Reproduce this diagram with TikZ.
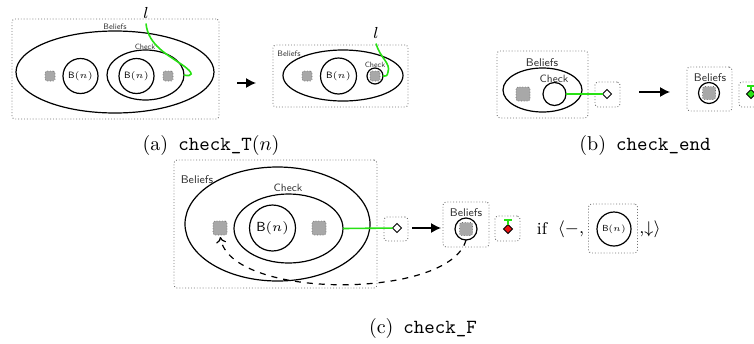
\RequirePackage{fix-cm}
\documentclass[tikz,border=0pt]{standalone}
\usepackage{fontspec}
\usetikzlibrary{shapes.geometric,arrows.meta}
\definecolor{lgreen}{RGB}{40,225,20}
\definecolor{sqgray}{RGB}{168,168,168}
\definecolor{boxgray}{RGB}{115,115,115}
\definecolor{lred}{RGB}{235,20,20}
\newcommand{\fsz}[1]{\fontsize{#1}{#1}\selectfont}
\newcommand{\Bn}{\textsf{B}$(n)$}
\begin{document}
\begin{tikzpicture}[x=0.5pt,y=-0.5pt,
  every node/.style={inner sep=0pt, outer sep=0pt},
  dotbox/.style={rectangle, draw=boxgray, densely dotted, line width=0.45pt, rounded corners=1.5pt},
  ell/.style={ellipse, draw, line width=0.6pt},
  circ/.style={circle, draw, line width=0.6pt},
  gsq/.style={rectangle, fill=sqgray, draw=sqgray!65!black, densely dotted, line width=0.35pt, rounded corners=0.8pt, minimum size=#1},
  gsq/.default=5pt,
  dia/.style={diamond, draw, fill=white, line width=0.5pt, minimum size=4.5pt},
  lab/.style={font=\sffamily\fsz{#1}, text=black!80},
  gline/.style={draw=lgreen, line width=0.8pt},
  bigarr/.style={line width=0.6pt, -{Latex[length=5pt,width=5pt]}},
  captext/.style={font=\fsz{10}}
]
\useasboundingbox (0,0) rectangle (754,343);
\clip (0,0) rectangle (754,343);

% ---------- (a) left ----------
\node[dotbox, minimum width=103.5pt, minimum height=50pt] (aBox) at (115.5,69) {};
\node[ell, minimum width=99pt, minimum height=41pt] (aBel) at (115,72) {};
\node[lab=4] (aBelL) at (115,27) {Beliefs};
\node[ell, minimum width=38.5pt, minimum height=25pt] (aChk) at (145.5,75) {};
\node[lab=3.8] (aChkL) at (145,47) {Check};
\node[circ, minimum size=17.5pt, font=\fsz{4.6}] (aB1) at (80.5,76) {\Bn};
\node[circ, minimum size=17.5pt, font=\fsz{4.6}] (aB2) at (136.5,76) {\Bn};
\node[gsq] (aS1) at (50,76) {};
\node[gsq] (aS2) at (168,76) {};
\node[font=\fsz{8}, outer sep=2.5pt] (aL) at (146,13) {$l$};
\draw[gline] (aL.south) .. controls (148,45) and (168,55) .. (181,64) .. controls (196,74) and (192,77) .. (aChk.east);
\coordinate (aA1) at (237,83);
\coordinate (aA2) at (256,83);
\draw[bigarr] (aA1) -- (aA2);

% ---------- (a) right ----------
\node[dotbox, minimum width=67.5pt, minimum height=31pt] (a2Box) at (340.5,76) {};
\node[ell, minimum width=60pt, minimum height=25.5pt] (a2Bel) at (343,75.5) {};
\node[lab=4] (a2BelL) at (289,54) {Beliefs};
\node[circ, minimum size=18pt, font=\fsz{4.6}] (a2B) at (338.5,76) {\Bn};
\node[circ, minimum size=8pt] (a2Chk) at (375,76) {};
\node[gsq] (a2S2) at (375,76) {};
\node[lab=3.8] (a2ChkL) at (375,65) {Check};
\node[gsq] (a2S1) at (307,76) {};
\node[font=\fsz{8}, outer sep=2.5pt] (a2L) at (376,33) {$l$};
\draw[gline] (a2L.south) .. controls (380,58) and (391,63) .. (388,72) .. controls (387,76) .. (a2Chk.east);

\node[captext] (capA) at (211,145) {(a)\enspace\texttt{check\_T}$(n)$};

% ---------- (b) ----------
\node[dotbox, minimum width=45.5pt, minimum height=33.5pt] (bBox) at (542.5,84.5) {};
\node[ell, minimum width=39.5pt, minimum height=22pt] (bBel) at (542.5,90) {};
\node[lab=5.6] (bBelL) at (542,63) {Beliefs};
\node[lab=5.3] (bChkL) at (554,79) {Check};
\node[circ, minimum size=11.5pt] (bChk) at (554.5,94) {};
\node[gsq=7pt] (bS) at (523,94) {};
\node[dotbox, minimum size=12.5pt] (bDB) at (607.5,94.5) {};
\node[dia] (bD) at (607,94) {};
\draw[gline] (bChk) -- (bD);
\coordinate (bA1) at (639,92);
\coordinate (bA2) at (670,92);
\draw[bigarr] (bA1) -- (bA2);
\node[dotbox, minimum width=22.5pt, minimum height=22pt] (b2Box) at (709.5,89) {};
\node[lab=5.6] (b2BelL) at (710,78) {Beliefs};
\node[circ, minimum size=10.5pt] (b2C) at (709,93) {};
\node[gsq=6.5pt] (b2S) at (709,93) {};
\node[dotbox, minimum size=12.5pt] (b2DB) at (751.5,94.5) {};
\node[dia, fill=lgreen] (b2D) at (751,94) {};
\coordinate (b2T) at (751,85);
\draw[gline, -{Bar[width=4pt]}] (b2D) -- (b2T);

\node[captext] (capB) at (645,145) {(b)\enspace\texttt{check\_end}};

% ---------- (c) ----------
\node[dotbox, minimum width=101.5pt, minimum height=64pt] (cBox) at (275.5,224) {};
\node[ell, minimum width=92.5pt, minimum height=57pt] (cBel) at (277.5,224) {};
\node[lab=5.6] (cBelL) at (197,180) {Beliefs};
\node[ell, minimum width=54.5pt, minimum height=34.5pt] (cChk) at (288.5,228.5) {};
\node[lab=5.3] (cChkL) at (288,188) {Check};
\node[circ, minimum size=23pt, font=\fsz{6.6}] (cB) at (272.5,228) {\Bn};
\node[gsq=7pt] (cS1) at (220,228) {};
\node[gsq=7pt] (cS2) at (319,228) {};
\node[dotbox, minimum size=12pt] (cDB) at (396,229) {};
\node[dia] (cD) at (397,228) {};
\draw[gline] (cChk.east) -- (cD);
\coordinate (cA1) at (412,228);
\coordinate (cA2) at (441,228);
\draw[bigarr] (cA1) -- (cA2);
\node[dotbox, minimum width=23pt, minimum height=22.5pt] (c2Box) at (466,224.5) {};
\node[lab=5.6] (c2BelL) at (466,213) {Beliefs};
\node[circ, minimum size=11pt] (c2C) at (466,229) {};
\node[gsq=6.5pt] (c2S) at (466,229) {};
\node[dotbox, minimum size=12.5pt] (cRB) at (507.5,228.5) {};
\node[dia, fill=lred] (cRD) at (508,229) {};
\coordinate (cRT) at (508,219);
\draw[gline, -{Bar[width=4pt]}] (cRD) -- (cRT);
\node[font=\fsz{8.5}] (cIf) at (542,229) {if};
\node[font=\fsz{8.5}] (cLa) at (571,229) {$\langle -,$};
\node[dotbox, minimum size=24.5pt] (cCond) at (613,228.5) {};
\node[circ, minimum size=17pt, font=\fsz{4.4}] (cCondC) at (614,229) {\Bn};
\node[font=\fsz{8.5}] (cRa) at (650,229) {$,\!\downarrow\rangle$};
\draw[dashed, line width=0.6pt, -{To[length=3pt,width=5pt]}, shorten >=1pt] (c2C.south) .. controls (450,300) and (230,300) .. (cS1.south);

\node[captext] (capC) at (423,328) {(c)\enspace\texttt{check\_F}};
\end{tikzpicture}
\end{document}
